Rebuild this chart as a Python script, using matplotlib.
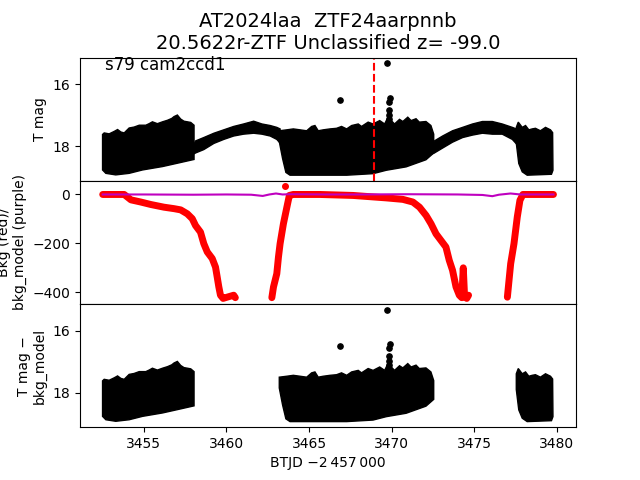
# Curva de luz TESS + fundo (bkg) para AT2024laa
import matplotlib
matplotlib.use('Agg')
import matplotlib.pyplot as plt
from matplotlib.ticker import MultipleLocator

# --- T mag: bordas (superior / inferior) da faixa de pontos ---
# trecho ruidoso 1
seg1_t_sup = [3452.50, 3452.60, 3452.90, 3453.21, 3453.41, 3453.61, 3453.81, 3454.11, 3454.41, 3454.72,
              3455.12, 3455.32, 3455.52, 3455.82, 3456.13, 3456.43, 3456.69, 3456.83, 3457.03, 3457.23,
              3457.43, 3457.64, 3457.84, 3458.04]
seg1_m_sup = [17.62, 17.57, 17.60, 17.52, 17.46, 17.54, 17.57, 17.41, 17.38, 17.32,
              17.32, 17.27, 17.21, 17.27, 17.21, 17.16, 17.10, 17.04, 16.99, 17.12,
              17.19, 17.21, 17.23, 17.32]
seg1_t_inf = [3452.50, 3452.70, 3453.30, 3454.11, 3454.92, 3456.13, 3457.13, 3458.04]
seg1_m_inf = [18.77, 18.88, 18.93, 18.88, 18.77, 18.66, 18.54, 18.43]

# trecho suave 1 (fundo alto)
lis1_t = [3458.03, 3458.13, 3458.63, 3459.24, 3459.84, 3460.44, 3461.04, 3461.65, 3462.15, 3462.65, 3463.05, 3463.25]
lis1_m_sup = [17.95, 17.83, 17.72, 17.58, 17.47, 17.36, 17.28, 17.19, 17.28, 17.33, 17.39, 17.44]
lis1_m_inf = [18.25, 18.22, 18.11, 17.91, 17.78, 17.67, 17.61, 17.58, 17.61, 17.67, 17.78, 17.90]

# trecho ruidoso 2
seg2_t_sup = [3463.20, 3463.65, 3464.05, 3464.46, 3464.86, 3465.16, 3465.36, 3465.56, 3465.86, 3466.27,
              3466.67, 3466.97, 3467.28, 3467.58, 3467.98, 3468.18, 3468.58, 3468.88, 3469.28, 3469.58,
              3469.78, 3469.98, 3470.18, 3470.48, 3470.68, 3470.98, 3471.18, 3471.48, 3471.68, 3472.08,
              3472.38, 3472.55]
seg2_m_sup = [17.50, 17.47, 17.44, 17.47, 17.50, 17.36, 17.33, 17.50, 17.47, 17.44,
              17.42, 17.36, 17.44, 17.33, 17.28, 17.36, 17.22, 17.28, 17.17, 17.28,
              17.06, 17.17, 17.28, 17.13, 17.20, 17.06, 17.17, 17.11, 17.22, 17.20,
              17.33, 17.61]
seg2_t_inf = [3463.20, 3463.40, 3463.60, 3463.85, 3467.28, 3468.88, 3469.68, 3470.88, 3472.08, 3472.55]
seg2_m_inf = [17.85, 18.40, 18.85, 18.94, 18.94, 18.89, 18.78, 18.67, 18.44, 18.22]

# trecho suave 2
lis2_t = [3472.45, 3472.59, 3473.09, 3473.69, 3474.30, 3474.90, 3475.50, 3476.10, 3476.70, 3477.31, 3477.60]
lis2_m_sup = [17.95, 17.83, 17.67, 17.50, 17.39, 17.28, 17.20, 17.20, 17.28, 17.39, 17.45]
lis2_m_inf = [18.25, 18.22, 18.06, 17.87, 17.72, 17.64, 17.58, 17.61, 17.61, 17.78, 17.95]

# trecho ruidoso 3
seg3_t_sup = [3477.55, 3477.67, 3477.91, 3478.11, 3478.31, 3478.51, 3478.71, 3479.01, 3479.32, 3479.62, 3479.75]
seg3_m_sup = [17.39, 17.22, 17.39, 17.33, 17.47, 17.44, 17.42, 17.50, 17.39, 17.47, 17.56]
seg3_t_inf = [3477.55, 3477.70, 3477.91, 3478.21, 3479.68, 3479.77]
seg3_m_inf = [17.90, 18.56, 18.83, 18.94, 18.91, 18.78]

# pontos isolados (flare)
out_t = [3466.87, 3469.72, 3469.88, 3469.85, 3469.83, 3469.83, 3469.82]
out_m = [16.50, 15.31, 16.44, 16.56, 16.83, 16.98, 17.11]

# --- fundo (vermelho) e modelo do fundo (roxo) ---
bkg_t = [3452.51, 3453.81, 3454.22, 3454.82, 3455.42, 3456.22, 3456.83, 3457.23, 3457.63, 3457.93,
         3458.13, 3458.43, 3458.63, 3458.84, 3459.14, 3459.34, 3459.44, 3459.54, 3459.64, 3459.8,
         3460.04, 3460.44, 3460.54, None,
         3462.75, 3462.85, 3463.05, 3463.15, 3463.25, 3463.45, 3463.66, 3463.81, 3464.05, 3465.66,
         3467.67, 3469.68, 3470.68, 3471.29, 3471.69, 3472.09, 3472.39, 3472.69, 3472.99, 3473.29,
         3473.49, 3473.69, 3473.90, 3474.10, 3474.25, 3474.34, 3474.42, 3474.55, 3474.66, None,
         3477.01, 3477.11, 3477.21, 3477.41, 3477.61, 3477.77, 3477.95, 3479.80]
bkg_v = [0, 0, -22, -31, -41, -52, -58, -63, -79, -99,
         -127, -154, -201, -235, -262, -297, -337, -378, -412, -425,
         -420, -412, -422, None,
         -422, -378, -324, -256, -201, -120, -52, -4, 0, 0,
         -4, -14, -20, -31, -52, -86, -120, -161, -188, -215,
         -269, -310, -378, -412, -422, -300, -418, -425, -412, None,
         -420, -351, -283, -201, -92, -24, 0, 0]
bkg_out_t = [3463.55]
bkg_out_v = [33]

mod_t = [3452.51, 3455.0, 3458.0, 3460.0, 3461.5, 3462.2, 3462.6, 3463.0, 3463.4, 3463.8,
         3466.0, 3468.0, 3471.0, 3474.0, 3475.5, 3476.1, 3476.5, 3477.2, 3477.8, 3479.8]
mod_v = [0, 0, -1, 0, -1, -6, 0, 4, 0, 1,
         0, 0, 1, 0, -2, -7, -1, 4, 0, 0]

tempo_alerta = 3468.92


def faixa(ax, t_sup, m_sup, t_inf, m_inf):
    # poligono: borda superior ida + borda inferior volta
    ax.fill(list(t_sup) + list(t_inf)[::-1], list(m_sup) + list(m_inf)[::-1],
            color='k', lw=1)


fig, (ax0, ax1, ax2) = plt.subplots(3, 1, sharex=True)
fig.subplots_adjust(hspace=0)

# painel 1: T mag
faixa(ax0, seg1_t_sup, seg1_m_sup, seg1_t_inf, seg1_m_inf)
faixa(ax0, lis1_t, lis1_m_sup, lis1_t, lis1_m_inf)
faixa(ax0, seg2_t_sup, seg2_m_sup, seg2_t_inf, seg2_m_inf)
faixa(ax0, lis2_t, lis2_m_sup, lis2_t, lis2_m_inf)
faixa(ax0, seg3_t_sup, seg3_m_sup, seg3_t_inf, seg3_m_inf)
ax0.plot(out_t, out_m, 'ko', ms=3.8)
ax0.axvline(tempo_alerta, color='r', ls='--')
ax0.invert_yaxis()
ax0.yaxis.set_major_locator(MultipleLocator(2))
ax0.set_ylabel('T mag')
ax0.set_title('AT2024laa  ZTF24aarpnnb\n20.5622r-ZTF Unclassified z= -99.0', fontsize=14)
ax0.text(0.05, 0.9, 's79 cam2ccd1', transform=ax0.transAxes, fontsize=12)

# painel 2: fundo
t_b = [float('nan') if v is None else v for v in bkg_t]
v_b = [float('nan') if v is None else v for v in bkg_v]
ax1.plot(t_b, v_b, color='r', lw=5, solid_capstyle='round', solid_joinstyle='round')
ax1.plot(bkg_out_t, bkg_out_v, 'ro', ms=4)
ax1.plot(mod_t, mod_v, color='m', lw=1.5)
ax1.set_ylabel('Bkg (red)/\nbkg_model (purple)')

# painel 3: T mag - modelo
faixa(ax2, seg1_t_sup, seg1_m_sup, seg1_t_inf, seg1_m_inf)
faixa(ax2, seg2_t_sup, seg2_m_sup, seg2_t_inf, seg2_m_inf)
faixa(ax2, seg3_t_sup, seg3_m_sup, seg3_t_inf, seg3_m_inf)
ax2.plot(out_t, out_m, 'ko', ms=3.8)
ax2.invert_yaxis()
ax2.yaxis.set_major_locator(MultipleLocator(2))
ax2.set_ylabel('T mag \u2212\nbkg_model')
ax2.set_xlabel('BTJD \u22122\u2009457\u2009000')

plt.savefig('out.png')
